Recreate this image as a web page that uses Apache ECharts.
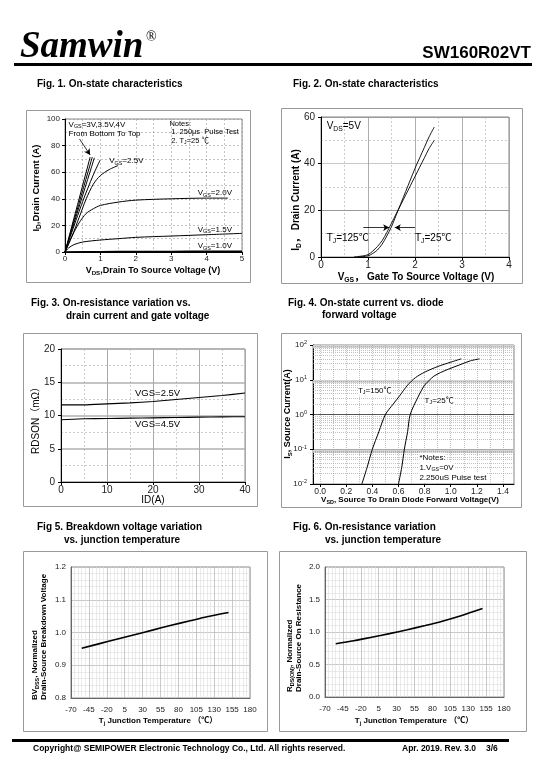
<!DOCTYPE html>
<html><head><meta charset="utf-8">
<script src="https://cdn.jsdelivr.net/npm/echarts@6/dist/echarts.min.js"></script>
<style>html,body{margin:0;padding:0;background:#fff}#c{width:540px;height:780px}</style>
</head><body><div id="c"></div>
<script>
// ---------- DATA ----------
// Fig 1: ID vs VDS for several VGS
const f1_vgs10 = [[0,0],[1,0.2],[2,0.3],[3,0.4],[4,0.5],[5,0.6]];
const f1_vgs15 = [[0,0],[0.1,3],[0.25,5.5],[0.5,7.5],[1,9],[1.5,10],[2,11],[3,12],[4,13],[5,14]];
const f1_vgs20 = [[0,0],[0.2,12],[0.4,22],[0.6,29],[0.8,32.5],[1,35],[1.5,37.5],[2,39],[3,40],[4,40.5],[4.6,40.5]];
const f1_vgs25 = [[0,0],[0.2,12],[0.4,26],[0.6,40],[0.8,51],[1.0,57.5],[1.25,62],[1.5,65]];
const f1_vgs30 = [[0,0],[0.5,38],[0.8,58],[0.99,69]];
const f1_vgs35 = [[0,0],[0.83,70.8]];
const f1_vgs40 = [[0,0],[0.77,71.3]];
const f1_vgs45 = [[0,0],[0.71,71.3]];
const f1_arrow = [[0.41,85],[0.71,73]];
// Fig 2: ID vs VGS
const f2_t25  = [[0.8,0],[1.0,0.5],[1.1,1.5],[1.2,3],[1.3,5.5],[1.4,9],[1.5,13],[1.6,18],[1.7,23],[1.8,28],[1.9,33],[2.0,38],[2.1,42.5],[2.2,47],[2.3,51.5],[2.41,55.7]];
const f2_t125 = [[0.7,0],[0.9,0.5],[1.0,1],[1.1,2.5],[1.2,4.5],[1.3,7],[1.4,10.5],[1.5,14.5],[1.6,18.5],[1.7,22.5],[1.8,26.5],[1.9,30.5],[2.0,34.5],[2.1,38.5],[2.2,42.5],[2.3,46.5],[2.41,50]];
const f2_arrowL = [[0.9,12.6],[1.45,12.6]];
const f2_arrowR = [[2.0,12.6],[1.57,12.6]];
// Fig 3: RDSON vs ID
const f3_vgs25 = [[0,11.6],[5,11.6],[10,11.75],[15,11.9],[20,12.1],[25,12.4],[30,12.7],[35,13.0],[40,13.38]];
const f3_vgs45 = [[0,9.37],[5,9.5],[10,9.55],[15,9.6],[20,9.65],[25,9.7],[30,9.75],[35,9.8],[40,9.82]];
// Fig 4: IS vs VSD (log)
const f4_t150 = [[0.32,0.01],[0.36,0.03],[0.40,0.1],[0.45,0.32],[0.50,1],[0.56,2],[0.61,3.5],[0.67,7],[0.73,11.5],[0.80,16.5],[0.90,24],[1.00,32],[1.08,40]];
const f4_t25  = [[0.60,0.01],[0.625,0.03],[0.645,0.1],[0.67,0.32],[0.69,1],[0.75,3.2],[0.80,7],[0.84,10],[0.87,12.6],[0.92,16],[0.98,20],[1.07,27],[1.15,35],[1.22,40]];
const f4_xlabels = [0,0.2,0.4,0.6,0.8,1.0,1.2,1.4];
// Fig 5 / Fig 6: vs junction temperature
const f56_temp = [-55,-30,-5,20,45,70,95,120,150];
const f5_bv  = [0.952,0.966,0.98,0.994,1.008,1.022,1.035,1.048,1.061];
const f6_rds = [0.82,0.865,0.92,0.975,1.035,1.10,1.17,1.25,1.36];

// ---------- STYLE HELPERS ----------
const F = '"Liberation Sans", Arial, "Noto Sans CJK SC", sans-serif';
const chart = echarts.init(document.getElementById('c'), null, {renderer:'canvas'});
const zip = (xs, ys) => xs.map((x,i)=>[x, ys[i]]);

function line(gi, data, w, extra) {
  return Object.assign({type:'line', xAxisIndex:gi, yAxisIndex:gi, data, showSymbol:false, symbol:'none',
    smooth:0.3, silent:true, animation:false, z:3, lineStyle:{color:'#000', width:w}}, extra||{});
}
const dash = (c,w)=>({show:true, lineStyle:{color:c, type:[2,2], width:w}});
const solid = (c,w)=>({show:true, lineStyle:{color:c, type:'solid', width:w}});
function axis(gi, min, max, interval, o) {
  return Object.assign({gridIndex:gi, type:'value', min, max, interval,
    axisLine:{show:true, onZero:false, lineStyle:{color:'#000', width:1}},
    axisTick:{show:true, length:3, lineStyle:{color:'#000'}},
    axisLabel:{fontSize:8, color:'#222', fontFamily:F, margin:4},
    minorTick:{show:false, splitNumber:2}}, o);
}

const xAxis = [
  axis(0,0,5,1,{splitLine:dash('#999',0.6), minorSplitLine:dash('#999',0.6), axisLabel:{fontSize:8,color:'#222',fontFamily:F,margin:3}}),
  axis(1,0,4,1,{splitLine:solid('#999',0.8), minorSplitLine:dash('#aaa',0.6), axisLabel:{fontSize:10,color:'#222',fontFamily:F,margin:3}}),
  axis(2,0,40,10,{splitLine:solid('#aaa',1), minorSplitLine:dash('#aaa',0.6), axisLabel:{fontSize:10,color:'#222',fontFamily:F,margin:3}}),
  {gridIndex:3, type:'value', min:-0.054, max:1.484,
    axisLine:{show:true,onZero:false,lineStyle:{color:'#000'}},
    axisTick:{show:true,length:3,customValues:f4_xlabels,lineStyle:{color:'#000'}},
    axisLabel:{fontSize:8.5,color:'#222',fontFamily:F,margin:3,customValues:f4_xlabels,formatter:v=>(+v).toFixed(1)},
    splitLine:{show:false}},
  axis(4,-70,180,25,{axisLine:{show:true,onZero:false,lineStyle:{color:'#666'}}, axisTick:{show:false},
    minorTick:{show:false,splitNumber:5}, splitLine:solid('#bbb',0.8), minorSplitLine:solid('#ddd',0.6),
    axisLabel:{fontSize:8,color:'#222',fontFamily:F,margin:8}}),
  axis(5,-70,180,25,{axisLine:{show:true,onZero:false,lineStyle:{color:'#666'}}, axisTick:{show:false},
    minorTick:{show:false,splitNumber:5}, splitLine:solid('#bbb',0.8), minorSplitLine:solid('#ddd',0.6),
    axisLabel:{fontSize:8,color:'#222',fontFamily:F,margin:8}})
];
const yAxis = [
  axis(0,0,100,20,{splitLine:dash('#999',0.6), minorSplitLine:dash('#999',0.6), axisLabel:{fontSize:8,color:'#222',fontFamily:F,margin:5}}),
  axis(1,0,60,20,{splitLine:{show:true,lineStyle:{color:['#999','#999','#c8c8c8','#999'],width:[1]}}, minorSplitLine:dash('#aaa',0.6), axisLabel:{fontSize:10,color:'#222',fontFamily:F,margin:6}}),
  axis(2,0,20,5,{splitLine:solid('#b0b0b0',1.5), minorSplitLine:dash('#aaa',0.6), axisLabel:{fontSize:10,color:'#222',fontFamily:F,margin:6}}),
  {gridIndex:3, type:'log', logBase:10, min:0.01, max:100,
    axisLine:{show:true,onZero:false,lineStyle:{color:'#000'}},
    axisTick:{show:true,length:3,lineStyle:{color:'#000'}},
    axisLabel:{fontSize:8,color:'#222',fontFamily:F,margin:6,lineHeight:10,
      formatter:v=>'10{sup|'+Math.round(Math.log10(v))+'}',
      rich:{sup:{fontSize:5.5,lineHeight:3,verticalAlign:'top',fontFamily:F,color:'#222'}}},
    splitLine:{show:true,lineStyle:{color:['#999','#aaa','#555','#aaa','#999'],width:1}}},
  axis(4,0.8,1.2,0.1,{axisLine:{show:true,onZero:false,lineStyle:{color:'#666'}}, axisTick:{show:false},
    minorTick:{show:false,splitNumber:5}, splitLine:solid('#bbb',0.8), minorSplitLine:solid('#ddd',0.6),
    axisLabel:{fontSize:8,color:'#222',fontFamily:F,margin:5,formatter:v=>(+v).toFixed(1)}}),
  axis(5,0,2,0.5,{axisLine:{show:true,onZero:false,lineStyle:{color:'#666'}}, axisTick:{show:false},
    minorTick:{show:false,splitNumber:5}, splitLine:solid('#bbb',0.8), minorSplitLine:solid('#ddd',0.6),
    axisLabel:{fontSize:8,color:'#222',fontFamily:F,margin:5,formatter:v=>(+v).toFixed(1)}})
];

// log-axis minor grid and vertical grid for Fig 4
const f4Grid = [];
for (let d=-2; d<2; d++) for (let k=2; k<=9; k++) f4Grid.push({yAxis: k*Math.pow(10,d)});
for (let i=0; i<=14; i++) f4Grid.push({xAxis: i/10});
const f4Bands = [{yAxis:9.3},{yAxis:0.093},{yAxis:93}].map(o=>Object.assign(o,{lineStyle:{color:'#d4d4d4',width:3,type:'solid'}}));

const arrowML = (pairs) => ({silent:true, symbol:['none','arrow'], symbolSize:[5,6], animation:false,
  label:{show:false}, lineStyle:{color:'#000',width:0.8,type:'solid'},
  data: pairs.map(p=>[{coord:p[0]},{coord:p[1]}])});

const series = [
  line(0,f1_vgs10,1.6), line(0,f1_vgs15,1), line(0,f1_vgs20,1), line(0,f1_vgs25,1),
  line(0,f1_vgs30,1,{markLine:arrowML([f1_arrow])}), line(0,f1_vgs35,1), line(0,f1_vgs40,1), line(0,f1_vgs45,1),
  line(1,f2_t25,0.9,{markLine:arrowML([f2_arrowL,f2_arrowR])}), line(1,f2_t125,0.9),
  line(2,f3_vgs25,1.1,{smooth:0.2}), line(2,f3_vgs45,1.1,{smooth:0.2}),
  {type:'line', xAxisIndex:3, yAxisIndex:3, data:[], silent:true, z:1,
    markLine:{silent:true,symbol:'none',animation:false,z:1,label:{show:false},
      lineStyle:{color:'#999',type:[1,1],width:0.6},data:f4Bands.concat(f4Grid)}},
  line(3,f4_t150,1),
  line(3,f4_t25,1),
  line(4,zip(f56_temp,f5_bv),1.6), line(5,zip(f56_temp,f6_rds),1.6)
];

const gridBox = {show:true, borderColor:'#888', borderWidth:1};
const option = {
  animation:false,
  textStyle:{fontFamily:F},
  grid:[
    Object.assign({left:65, top:119, width:177, height:133}, gridBox),
    Object.assign({left:321, top:117, width:188, height:140}, gridBox),
    Object.assign({left:61, top:349, width:184, height:133}, gridBox),
    Object.assign({left:313, top:345, width:201, height:139}, gridBox),
    Object.assign({left:71, top:567, width:179, height:131}, gridBox),
    Object.assign({left:325, top:567, width:179, height:130}, gridBox)
  ],
  xAxis, yAxis, series
};
chart.setOption(option);

// ---------- TEXT / DECORATION ----------
const G = [];
function richFor(fs, fw) {
  return {s:{fontSize:Math.round(fs*0.68*10)/10, lineHeight:4, verticalAlign:'bottom', fontFamily:F, fontWeight:fw||'normal', fill:'#000'}};
}
function txt(x, y, text, o) {
  o = o || {};
  const fs = o.fs || 10, fw = o.fw || 'normal';
  G.push({type:'text', x, y, rotation:o.rot||0, silent:true, z:100,
    style:{text, fill:o.color||'#000', fontSize:fs, fontWeight:fw, fontFamily:o.ff||F, fontStyle:o.fst||'normal',
      align:o.al||'left', textAlign:o.al||'left', verticalAlign:o.va||'middle', textVerticalAlign:o.va||'middle',
      lineHeight:Math.round(fs*1.25), rich:richFor(fs,fw), backgroundColor:o.bg, padding:o.pad}});
}
function rect(x, y, w, h, o) {
  G.push({type:'rect', silent:true, z:o.z||1, shape:{x, y, width:w, height:h},
    style:{fill:o.fill||'none', stroke:o.stroke||null, lineWidth:o.lw||1}});
}
function dataTxt(gi, x, y, text, o) {
  const p = chart.convertToPixel({gridIndex:gi}, [x, y]);
  txt(p[0], p[1], text, o);
}

// header
txt(20, 47, 'Samwin', {fs:37, fw:'bold', fst:'italic', ff:'"Liberation Serif", "Times New Roman", serif'});
txt(146, 37, '®', {fs:14, ff:'"Liberation Serif", serif'});
txt(531, 53, 'SW160R02VT', {fs:17, fw:'bold', al:'right'});
rect(14, 63, 518, 3, {fill:'#000'});
// footer
rect(12, 739, 497, 3, {fill:'#000'});
txt(33, 749, 'Copyright@ SEMIPOWER Electronic Technology Co., Ltd. All rights reserved.', {fs:8.5, fw:'bold'});
txt(402, 749, 'Apr. 2019. Rev. 3.0', {fs:8.5, fw:'bold'});
txt(486, 749, '3/6', {fs:8.5, fw:'bold'});

// figure titles
const TB = {fs:10, fw:'bold'};
txt(37, 84, 'Fig. 1. On-state characteristics', TB);
txt(293, 84, 'Fig. 2. On-state characteristics', TB);
txt(31, 303, 'Fig. 3. On-resistance variation vs.', TB);
txt(66, 316, 'drain current and gate voltage', TB);
txt(288, 303, 'Fig. 4. On-state current vs. diode', TB);
txt(322, 315, 'forward voltage', TB);
txt(37, 527, 'Fig 5. Breakdown voltage variation', TB);
txt(64, 540, 'vs. junction temperature', TB);
txt(293, 527, 'Fig. 6. On-resistance variation', TB);
txt(325, 540, 'vs. junction temperature', TB);

// outer boxes
const BX = {stroke:'#999', lw:1};
rect(26.5, 110.5, 224, 172, BX);
rect(281.5, 108.5, 241, 175, BX);
rect(23.5, 333.5, 234, 173, BX);
rect(281.5, 333.5, 240, 174, BX);
rect(23.5, 551.5, 244, 180, BX);
rect(279.5, 551.5, 247, 180, BX);

// axis titles
const R = Math.PI/2;
txt(36, 188, 'I{s|D},Drain Current (A)', {fs:9.5, fw:'bold', rot:R, al:'center'});
txt(153, 271, 'V{s|DS},Drain To Source Voltage (V)', {fs:9, fw:'bold', al:'center'});
txt(296, 200, 'I{s|D}， Drain Current (A)', {fs:10, fw:'bold', rot:R, al:'center'});
txt(416, 277, 'V{s|GS}， Gate To Source Voltage (V)', {fs:10, fw:'bold', al:'center'});
txt(36, 418, 'RDSON（mΩ）', {fs:10, rot:R, al:'center'});
txt(153, 500, 'ID(A)', {fs:10, al:'center'});
txt(288, 414, 'I{s|S}, Source Current(A)', {fs:9, fw:'bold', rot:R, al:'center'});
txt(410, 500, 'V{s|SD}, Source To Drain Diode Forward Voltage(V)', {fs:8, fw:'bold', al:'center'});
txt(35, 700, 'BV{s|DSS}, Normalized', {fs:8, fw:'bold', rot:R, al:'left'});
txt(44, 700, 'Drain-Source Breakdown Voltage', {fs:8, fw:'bold', rot:R, al:'left'});
txt(158, 721, 'T{s|j} Junction Temperature （℃）', {fs:8, fw:'bold', al:'center'});
txt(290, 692, 'R{s|DS(ON)}, Normalized', {fs:8, fw:'bold', rot:R, al:'left'});
txt(299, 692, 'Drain-Source On Resistance', {fs:8, fw:'bold', rot:R, al:'left'});
txt(414, 721, 'T{s|j} Junction Temperature （℃）', {fs:8, fw:'bold', al:'center'});

// in-plot annotations (placed through the axes)
const A1 = {fs:8};
const A1n = {fs:7.5};
dataTxt(0, 0.1, 96, 'V{s|GS}=3V,3.5V,4V', A1);
dataTxt(0, 0.1, 89, 'From Bottom To Top', A1);
dataTxt(0, 2.95, 96.5, 'Notes:', A1n);
dataTxt(0, 3.0, 90, '1. 250μs  Pulse Test', A1n);
dataTxt(0, 3.0, 83.5, '2. T{s|J}=25 ℃', A1n);
dataTxt(0, 1.25, 68.5, 'V{s|GS}=2.5V', A1);
dataTxt(0, 3.75, 44.5, 'V{s|GS}=2.0V', A1);
dataTxt(0, 3.75, 17, 'V{s|GS}=1.5V', A1);
dataTxt(0, 3.75, 4.3, 'V{s|GS}=1.0V', A1);
const A2 = {fs:10};
dataTxt(1, 0.12, 56, 'V{s|DS}=5V', A2);
dataTxt(1, 0.12, 8.1, 'T{s|J}=125℃', A2);
dataTxt(1, 2.0, 8.1, 'T{s|J}=25℃', A2);
dataTxt(2, 21, 13.3, 'VGS=2.5V', {fs:9.5, al:'center'});
dataTxt(2, 21, 8.7, 'VGS=4.5V', {fs:9.5, al:'center'});
const A4 = {fs:8, bg:'#fff'};
dataTxt(3, 0.29, 4.9, 'T{s|J}=150℃', A4);
dataTxt(3, 0.80, 2.5, 'T{s|J}=25℃', A4);
dataTxt(3, 0.76, 0.0575, '*Notes:', A4);
dataTxt(3, 0.76, 0.0296, '1.V{s|GS}=0V', A4);
dataTxt(3, 0.76, 0.0152, '2.250uS Pulse test', A4);

chart.setOption({graphic:{elements:G}});
</script></body></html>
